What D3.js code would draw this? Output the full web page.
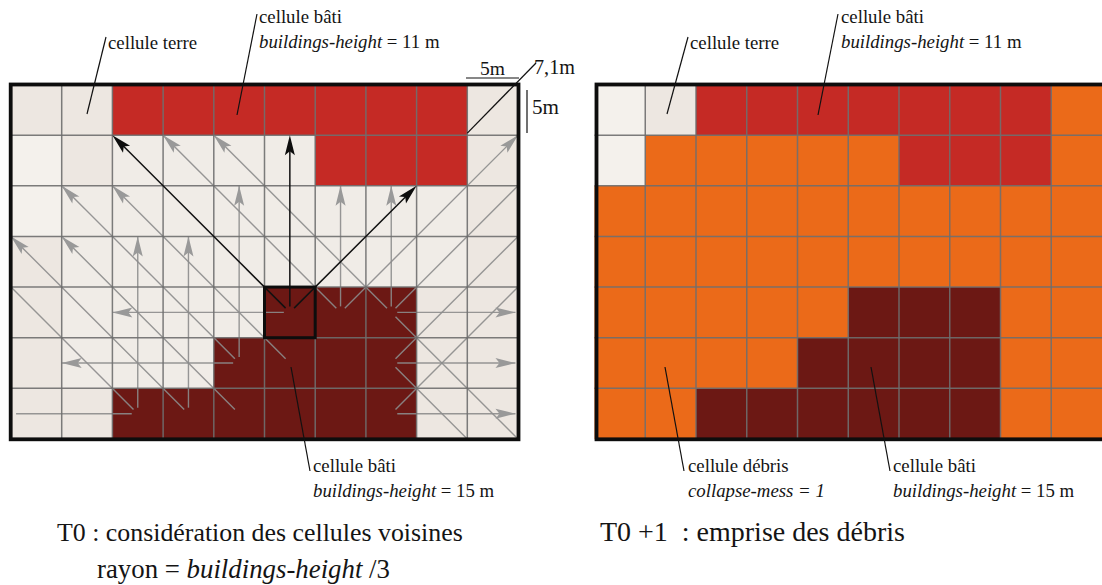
<!DOCTYPE html>
<html><head><meta charset="utf-8">
<script src="https://cdn.jsdelivr.net/npm/d3@7"></script>
<style>
body{margin:0;background:#fff}
svg{display:block}
text{font-family:"Liberation Serif","DejaVu Serif",serif;fill:#141414;white-space:pre}
</style>
</head><body>
<svg id="chart" width="1102" height="585"></svg>
<script>
// ---------- data ----------
const nCols = 10, nRows = 7;
// T = cellule terre, L/M = terre (lighter tones), R = bâti 11 m, D = bâti 15 m, O = débris
const gridT0 = [
  "TTRRRRRRRT",
  "LTMMMMRRRT",
  "LMMMMMMMMT",
  "TMMMMMMMMT",
  "TMMMMDDDTT",
  "TMMMDDDDTT",
  "TTDDDDDDTT"
];
const gridT1 = [
  "LTRRRRRRRO",
  "LOOOOORRRO",
  "OOOOOOOOOO",
  "OOOOOOOOOO",
  "OOOOODDDOO",
  "OOOODDDDOO",
  "OODDDDDDOO"
];
const cellColors = {T:"#EDE7E1", L:"#F4F1EC", M:"#F0ECE7", R:"#C52A25", D:"#6C1814", O:"#EB6A19"};
// neighbour rays: [col, row, direction, length in cells, arrowhead, kind]
const rays = [
  [5,4,"W",3.5,1,"g"],
  [6,4,"N",2.5,1,"g"], [6,4,"NE",3.5,1,"g"], [6,4,"NW",3.5,1,"g"],
  [7,4,"N",2.5,1,"g"], [7,4,"NE",2.5,0,"g"], [7,4,"E",2.45,1,"g"], [7,4,"SE",2.5,0,"g"], [7,4,"NW",3.5,1,"g"],
  [4,5,"N",3.5,1,"g"], [4,5,"NW",3.5,1,"g"], [4,5,"W",3.5,1,"g"],
  [5,5,"NW",3.5,1,"g"],
  [7,5,"E",2.45,1,"g"], [7,5,"NE",2.5,0,"g"], [7,5,"SE",1.5,0,"g"],
  [7,6,"E",2.45,1,"g"], [7,6,"NE",2.5,0,"g"],
  [2,6,"N",3.5,1,"g"], [2,6,"NW",2.5,0,"g"], [2,6,"W",2.4,0,"g"],
  [3,6,"N",3.5,1,"g"], [3,6,"NW",3.5,1,"g"],
  [4,6,"NW",3.5,1,"g"],
  [5,4,"NW",3.5,1,"k"], [5,4,"N",3.5,1,"k"], [5,4,"NE",2.5,1,"k"]
];
const focusCell = [5,4];
const directions = {N:[0,-1], NE:[1,-1], E:[1,0], SE:[1,1], S:[0,1], SW:[-1,1], W:[-1,0], NW:[-1,-1]};

// ---------- layout ----------
const svg = d3.select("#chart");
const yScale = d3.scaleLinear().domain([0, nRows]).range([84.5, 439]);
const xLeft = d3.scaleLinear().domain([0, nCols]).range([11, 518]);
const xRight = d3.scaleLinear().domain([0, nCols]).range([594.5, 1102]);

function drawGrid(g, grid, x) {
  const cells = [];
  grid.forEach((row, r) => row.split("").forEach((t, c) => cells.push({r, c, t})));
  g.selectAll("rect.cell").data(cells).join("rect").attr("class","cell")
    .attr("x", d => x(d.c)).attr("y", d => yScale(d.r))
    .attr("width", d => x(d.c+1) - x(d.c) + 0.3).attr("height", d => yScale(d.r+1) - yScale(d.r) + 0.3)
    .attr("fill", d => cellColors[d.t]);
}
function drawGridLines(g, x) {
  g.selectAll("line.v").data(d3.range(1, nCols)).join("line").attr("class","v")
    .attr("x1", d => x(d)).attr("x2", d => x(d)).attr("y1", yScale(0)).attr("y2", yScale(nRows))
    .attr("stroke","#6e6e6e").attr("stroke-width",1.5).attr("stroke-opacity",0.9);
  g.selectAll("line.h").data(d3.range(1, nRows)).join("line").attr("class","h")
    .attr("y1", d => yScale(d)).attr("y2", d => yScale(d)).attr("x1", x(0)).attr("x2", x(nCols))
    .attr("stroke","#6e6e6e").attr("stroke-width",1.5).attr("stroke-opacity",0.9);
}

// ---------- left panel ----------
const gL = svg.append("g");
drawGrid(gL, gridT0, xLeft);

function rayGeom(d) {
  const [c, r, dir, len] = d;
  const [dx, dy] = directions[dir];
  const cx = xLeft(c + 0.5), cy = yScale(r + 0.5);
  const ex = xLeft(c + 0.5 + dx*len), ey = yScale(r + 0.5 + dy*len);
  const L = Math.hypot(ex-cx, ey-cy), ux = (ex-cx)/L, uy = (ey-cy)/L;
  return {sx: cx + ux*6, sy: cy + uy*6, ex, ey, ux, uy};
}
const grayRays = rays.filter(d => d[5] === "g");
const blackRays = rays.filter(d => d[5] === "k");

gL.append("g").selectAll("line").data(grayRays).join("line")
  .each(function(d){ const p = rayGeom(d);
    d3.select(this).attr("x1",p.sx).attr("y1",p.sy).attr("x2",p.ex).attr("y2",p.ey); })
  .attr("stroke","#8c8c8c").attr("stroke-width",1.4).attr("stroke-opacity",0.9);

drawGridLines(gL, xLeft);

gL.append("g").selectAll("line").data(blackRays).join("line")
  .each(function(d){ const p = rayGeom(d);
    d3.select(this).attr("x1",p.sx).attr("y1",p.sy).attr("x2",p.ex - p.ux*8).attr("y2",p.ey - p.uy*8); })
  .attr("stroke","#111").attr("stroke-width",1.5);

function headPath(d) {
  const p = rayGeom(d), Lh = 20, W = 5;
  const bx = p.ex - p.ux*Lh, by = p.ey - p.uy*Lh;
  const nx = -p.uy, ny = p.ux;
  return `M${p.ex},${p.ey}L${bx+nx*W},${by+ny*W}L${p.ex-p.ux*Lh*0.8},${p.ey-p.uy*Lh*0.8}L${bx-nx*W},${by-ny*W}Z`;
}
gL.append("g").selectAll("path").data(rays.filter(d => d[4] === 1)).join("path")
  .attr("d", headPath)
  .attr("fill", d => d[5] === "k" ? "#0d0d0d" : "#999");

// focus cell
gL.append("rect")
  .attr("x", xLeft(focusCell[0])).attr("y", yScale(focusCell[1]))
  .attr("width", xLeft(focusCell[0]+1) - xLeft(focusCell[0]))
  .attr("height", yScale(focusCell[1]+1) - yScale(focusCell[1]))
  .attr("fill","none").attr("stroke","#0d0d0d").attr("stroke-width",3);

gL.append("rect").attr("x",10.7).attr("y",84.5).attr("width",507.8).attr("height",354.8)
  .attr("fill","none").attr("stroke","#0d0d0d").attr("stroke-width",3.8);

// ---------- right panel ----------
const gR = svg.append("g");
drawGrid(gR, gridT1, xRight);
drawGridLines(gR, xRight);
gR.append("rect").attr("x",596.5).attr("y",84.5).attr("width",512).attr("height",354.8)
  .attr("fill","none").attr("stroke","#0d0d0d").attr("stroke-width",3.8);

// ---------- scale marks ----------
const ann = svg.append("g");
ann.append("line").attr("x1",466).attr("x2",519).attr("y1",78).attr("y2",78).attr("stroke","#111").attr("stroke-width",1.2);
ann.append("line").attr("x1",527).attr("x2",527).attr("y1",90).attr("y2",133).attr("stroke","#111").attr("stroke-width",1.2);
ann.append("line").attr("x1",xLeft(9)).attr("y1",yScale(1)-2).attr("x2",536).attr("y2",63).attr("stroke","#111").attr("stroke-width",1.3);

// ---------- leader lines & labels ----------
const leaders = [
  [106,37,87,114],[257,14,237,115],[688,37,667,114],[838,14,818,115],
  [291,367,310,471],[665,367,684,471],[871,367,890,471]
];
ann.selectAll("line.lead").data(leaders).join("line").attr("class","lead")
  .attr("x1",d=>d[0]).attr("y1",d=>d[1]).attr("x2",d=>d[2]).attr("y2",d=>d[3])
  .attr("stroke","#111").attr("stroke-width",1.2);

function label(x, y, parts, size, target) {
  const t = ann.append("text").attr("x", x).attr("y", y).attr("font-size", size);
  parts.forEach(p => t.append("tspan").attr("font-style", p[1] ? "italic" : "normal").text(p[0]));
  if (target) {
    const w = t.node().getBBox().width;
    t.attr("font-size", (size * target / w).toFixed(2));
  }
}
const fs = 18.8;
label(480, 75, [["5m",0]], 17, 25);
label(534, 74, [["7,1m",0]], 18, 41);
label(532, 114, [["5m",0]], 17, 27);
label(108, 49, [["cellule terre",0]], fs);
label(259, 23, [["cellule bâti",0]], fs);
label(259, 48, [["buildings-height",1],[" = 11 m",0]], fs);
label(690, 49, [["cellule terre",0]], fs);
label(841, 23, [["cellule bâti",0]], fs);
label(841, 48, [["buildings-height",1],[" = 11 m",0]], fs);
label(313, 472, [["cellule bâti",0]], fs);
label(313, 497, [["buildings-height",1],[" = 15 m",0]], fs);
label(688, 472, [["cellule débris",0]], fs);
label(688, 497, [["collapse-mess = 1",1]], fs);
label(893, 472, [["cellule bâti",0]], fs);
label(893, 497, [["buildings-height",1],[" = 15 m",0]], fs);

label(57, 541, [["T0 : considération des cellules voisines",0]], 25, 406);
label(97, 578, [["rayon = ",0],["buildings-height",1],[" /3",0]], 25, 293);
label(600, 541, [["T0 +1  : emprise des débris",0]], 25, 305);
</script>
</body></html>
